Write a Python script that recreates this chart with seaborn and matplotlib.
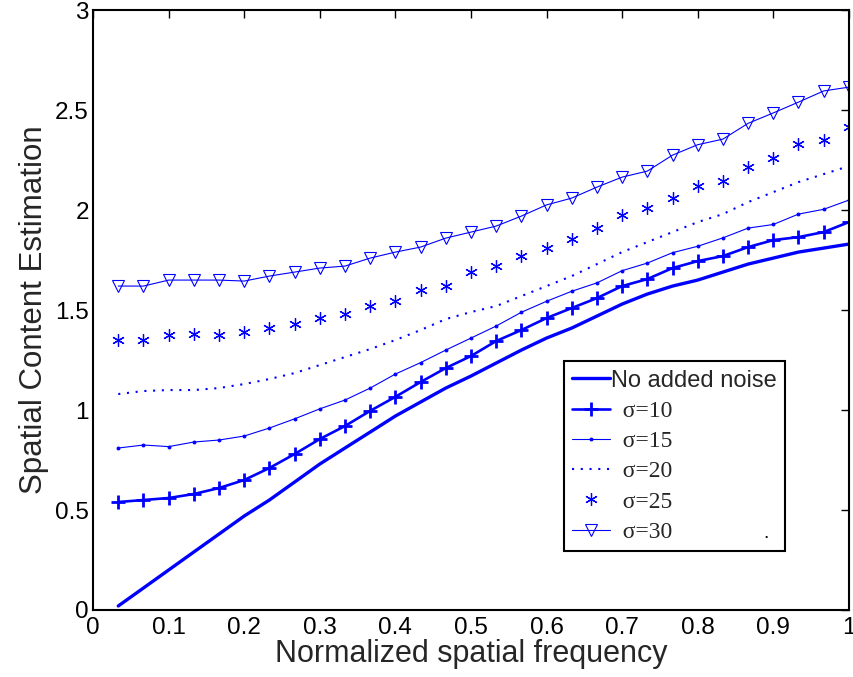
import matplotlib
matplotlib.use("Agg")
import matplotlib.pyplot as plt
import numpy as np
import pandas as pd
import seaborn as sns

sns.set_theme(style="white")
plt.rcParams['font.family'] = ['Liberation Sans', 'DejaVu Sans']

freq = [0.0333, 0.0667, 0.1, 0.1333, 0.1667, 0.2, 0.2333, 0.2667, 0.3, 0.3333,
        0.3667, 0.4, 0.4333, 0.4667, 0.5, 0.5333, 0.5667, 0.6, 0.6333, 0.6667,
        0.7, 0.7333, 0.7667, 0.8, 0.8333, 0.8667, 0.9, 0.9333, 0.9667, 1.0]

no_noise = [0.02, 0.11, 0.20, 0.29, 0.38, 0.47, 0.55, 0.64, 0.73, 0.81,
            0.89, 0.97, 1.04, 1.11, 1.17, 1.235, 1.30, 1.36, 1.41, 1.47,
            1.53, 1.58, 1.62, 1.65, 1.69, 1.73, 1.76, 1.79, 1.81, 1.83]
sigma10 = [0.54, 0.55, 0.56, 0.58, 0.61, 0.65, 0.71, 0.78, 0.855, 0.92,
           0.996, 1.066, 1.14, 1.21, 1.27, 1.345, 1.40, 1.46, 1.51, 1.56,
           1.62, 1.655, 1.71, 1.745, 1.77, 1.815, 1.85, 1.865, 1.89, 1.94]
sigma15 = [0.81, 0.825, 0.817, 0.84, 0.85, 0.87, 0.91, 0.956, 1.006, 1.05,
           1.11, 1.18, 1.237, 1.30, 1.36, 1.42, 1.489, 1.544, 1.594, 1.636,
           1.697, 1.735, 1.787, 1.819, 1.861, 1.91, 1.928, 1.98, 2.004, 2.05]
sigma20 = [1.08, 1.095, 1.10, 1.10, 1.11, 1.13, 1.155, 1.185, 1.225, 1.265,
           1.305, 1.35, 1.40, 1.455, 1.49, 1.52, 1.57, 1.62, 1.67, 1.73,
           1.79, 1.84, 1.89, 1.94, 1.98, 2.04, 2.09, 2.14, 2.18, 2.22]
sigma25 = [1.35, 1.35, 1.375, 1.38, 1.375, 1.39, 1.41, 1.43, 1.46, 1.48,
           1.52, 1.545, 1.60, 1.62, 1.69, 1.72, 1.77, 1.81, 1.857, 1.91,
           1.974, 2.01, 2.06, 2.12, 2.145, 2.215, 2.263, 2.33, 2.35, 2.414]
sigma30 = [1.62, 1.62, 1.65, 1.65, 1.65, 1.645, 1.67, 1.69, 1.71, 1.72,
           1.76, 1.79, 1.815, 1.86, 1.89, 1.92, 1.97, 2.026, 2.06, 2.115,
           2.165, 2.195, 2.275, 2.327, 2.355, 2.434, 2.486, 2.54, 2.596, 2.615]

labels = ["No added noise", "σ=10", "σ=15", "σ=20", "σ=25", "σ=30"]
series = [no_noise, sigma10, sigma15, sigma20, sigma25, sigma30]

# line style per series: (linestyle, linewidth, marker, markersize, mew, mfc)
styles = [
    ("-", 2.4, None, 0, 0, "blue"),
    ("-", 1.9, "+", 10, 2.0, "blue"),
    ("-", 0.8, ".", 4, 0.8, "blue"),
    ((0, (1, 3.2)), 1.5, None, 0, 0, "blue"),
    ("None", 0, (6, 2, 0), 9, 0.9, "blue"),
    ("-", 0.8, "v", 8, 0.8, "none"),
]

fig = plt.figure(figsize=(8.54, 6.77), dpi=100)
ax = fig.add_axes([0.109, 0.099, 0.885, 0.886])

for lab, vals, st in zip(labels, series, styles):
    df = pd.DataFrame({"f": freq, "v": vals})
    ls, lw, mk, ms, mew, mfc = st
    sns.lineplot(data=df, x="f", y="v", ax=ax, color="blue", linestyle=ls,
                 linewidth=lw, marker=mk, markersize=ms, markeredgewidth=mew,
                 markerfacecolor=mfc, markeredgecolor="blue", label=lab,
                 estimator=None, sort=False)

ax.set_xlim(0, 1)
ax.set_ylim(0, 3)
ax.set_xticks([0, 0.1, 0.2, 0.3, 0.4, 0.5, 0.6, 0.7, 0.8, 0.9, 1])
ax.set_xticklabels(["0", "0.1", "0.2", "0.3", "0.4", "0.5", "0.6", "0.7", "0.8", "0.9", "1"])
ax.set_yticks([0, 0.5, 1, 1.5, 2, 2.5, 3])
ax.set_yticklabels(["0", "0.5", "1", "1.5", "2", "2.5", "3"])
ax.tick_params(direction="in", length=6, width=1, top=True, right=True,
               labelsize=17.5, colors="black")
ax.tick_params(axis="y", pad=3)
ax.tick_params(axis="x", pad=5)
for sp in ax.spines.values():
    sp.set_color("black")
    sp.set_linewidth(1.5)
ax.set_xlabel("Normalized spatial frequency", fontsize=22, labelpad=0)
ax.set_ylabel("Spatial Content Estimation", fontsize=22.5, labelpad=4)
ax.grid(False)

leg = ax.legend(loc="lower left", bbox_to_anchor=(0.623, 0.098), borderaxespad=0,
                fontsize=17, frameon=True, fancybox=False, framealpha=1,
                edgecolor="black", handlelength=1.6, handletextpad=0.05,
                labelspacing=0.37, borderpad=0.35)
leg.get_frame().set_linewidth(1.5)
for t in leg.get_texts()[1:]:
    t.set_fontfamily(["Liberation Serif", "DejaVu Serif"])
    t.set_text("  " + t.get_text())

ax.text(0.887, 0.12, ".", transform=ax.transAxes, fontsize=14, color="black",
        zorder=10)

fig.savefig("out.png", dpi=100)
